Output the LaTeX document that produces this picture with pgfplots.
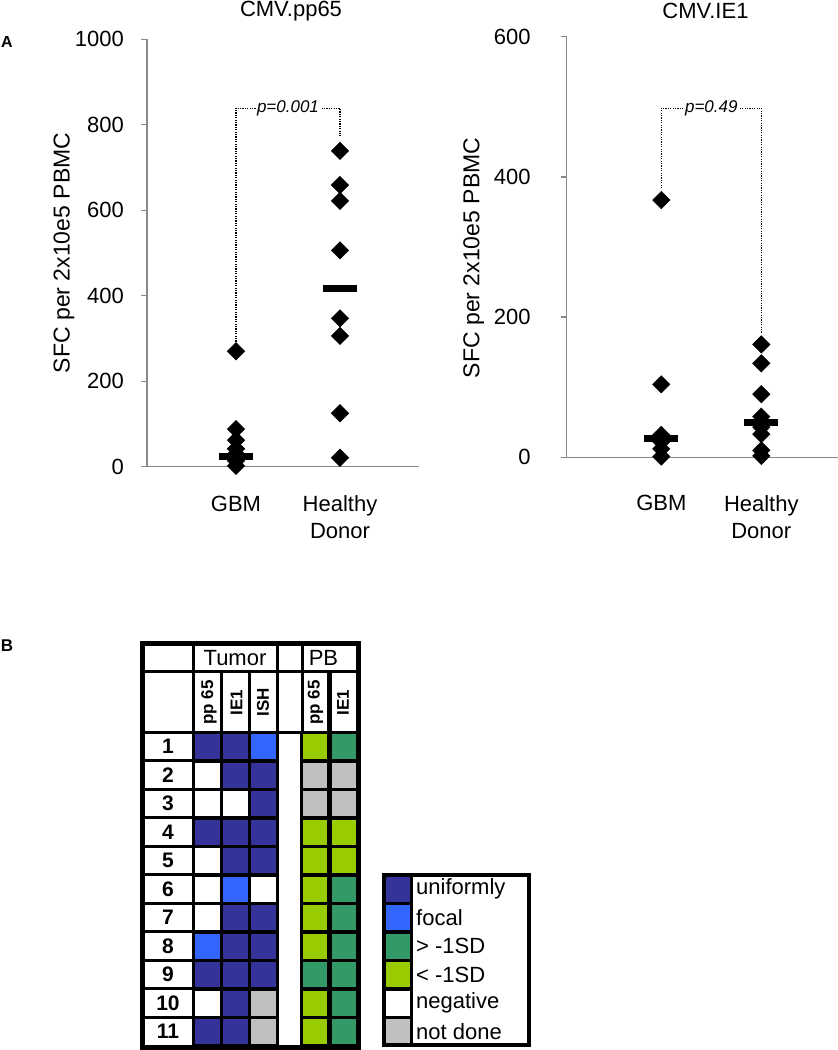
\documentclass[border=0pt]{standalone}
\usepackage{pgfplots}
\pgfplotsset{compat=1.18}
\usepackage{pgfplotstable}
\usepackage{fontspec}
\setmainfont{Liberation Sans}

\definecolor{uniform}{RGB}{51,51,153}
\definecolor{focal}{RGB}{51,102,255}
\definecolor{above}{RGB}{51,153,102}
\definecolor{below}{RGB}{153,204,0}
\definecolor{notdone}{RGB}{192,192,192}
\definecolor{axgray}{RGB}{136,136,136}

\newcommand{\fs}[1]{\fontsize{#1bp}{27bp}\selectfont}

% panel A data (group 1 = GBM, 2 = Healthy Donor)
\pgfplotstableread{
grp sfc
1 270
1 88
1 62
1 42
1 30
1 14
1 2
2 739
2 659
2 622
2 506
2 347
2 306
2 125
2 21
}\pptable
\pgfplotstableread{
grp sfc
1 24
2 418
}\ppmean
\pgfplotstableread{
grp sfc
1 367
1 104
1 32
1 22
1 12
1 1
2 161
2 134
2 90
2 58
2 43
2 33
2 10
2 2
}\ietable
\pgfplotstableread{
grp sfc
1 27
2 49
}\iemean

% panel B cells: col row (col 1-3 tumor pp65/IE1/ISH, 4.875/5.893 PB pp65/IE1, 7.82 legend)
\pgfplotstableread{
col row
1 1
2 1
2 2
3 2
3 3
1 4
2 4
3 4
2 5
3 5
2 7
3 7
2 8
3 8
1 9
2 9
3 9
2 10
1 11
2 11
7.82 6
}\cellU
\pgfplotstableread{
col row
3 1
2 6
1 8
7.82 7
}\cellF
\pgfplotstableread{
col row
5.893 1
5.893 6
5.893 7
5.893 8
4.875 9
5.893 9
5.893 10
5.893 11
7.82 8
}\cellA
\pgfplotstableread{
col row
4.875 1
4.875 4
5.893 4
4.875 5
5.893 5
4.875 6
4.875 7
4.875 8
4.875 10
4.875 11
7.82 9
}\cellB
\pgfplotstableread{
col row
1 2
1 3
2 3
1 5
1 6
3 6
1 7
1 10
7.82 10
}\cellN
\pgfplotstableread{
col row
3 10
3 11
4.875 2
5.893 2
4.875 3
5.893 3
7.82 11
}\cellND

\pgfplotsset{
  scat/.style={
    scale only axis, anchor=south west, clip=false,
    axis lines=left, axis line style={axgray, line width=1.3bp, -},
    xtick={1,2}, xticklabels={GBM,{Healthy\\Donor}},
    xtick style={draw=none},
    xticklabel style={align=center, anchor=north, inner sep=0pt, font=\fs{22}},
    ytick style={axgray, line width=1.3bp},
    tick align=outside, major tick length=6bp,
    yticklabel style={font=\fs{22}, anchor=east, inner sep=0pt},
    /pgf/number format/assume math mode=true,
    /pgf/number format/1000 sep={},
    ymin=0,
    ylabel={SFC per 2x10e5 PBMC},
    ylabel style={font=\fs{23}, anchor=center},
  },
  dia/.style={only marks, mark=square*, mark size=6.2bp,
    mark options={rotate=45, fill=black, draw=black, line width=0.4bp}},
  mbar/.style={only marks, mark=-, mark size=17bp,
    mark options={line width=7bp, draw=black}},
  brk/.style={black, line width=1.2bp, dash pattern=on 1.2bp off 1.2bp},
  cell/.style={only marks, mark=square*, mark size=14bp,
    mark options={fill=#1, draw=black, line width=3bp}},
}

\begin{document}
\begin{tikzpicture}
\useasboundingbox (0,0) rectangle (838bp,1050bp);

\begin{axis}[scat, at={(147bp,583.3bp)}, width=272bp, height=427.4bp,
  xmin=0.144, xmax=2.76, ymax=1000, ytick={0,200,...,1000},
  yticklabel style={xshift=-17bp}, xticklabel style={yshift=-23bp},
  ylabel style={at={(axis description cs:-0.305,0.5)}}]
  \addplot[brk] coordinates {(1,287) (1,839) (2,839) (2,773)};
  \node[fill=white, inner sep=1bp, font=\fs{17}\itshape] at (axis cs:1.5,839) {p=0.001};
  \addplot[dia] table[x=grp, y=sfc] {\pptable};
  \addplot[mbar] table[x=grp, y=sfc] {\ppmean};
\end{axis}

\begin{axis}[scat, at={(566.7bp,592.7bp)}, width=271.3bp, height=420.6bp,
  xmin=0.054, xmax=2.767, ymax=600, ytick={0,200,400,600},
  yticklabel style={xshift=-30bp}, xticklabel style={yshift=-32bp},
  ylabel style={at={(axis description cs:-0.343,0.474)}}]
  \addplot[brk] coordinates {(1,384) (1,498) (2,498) (2,177)};
  \node[fill=white, inner sep=1bp, font=\fs{17}\itshape] at (axis cs:1.5,498) {p=0.49};
  \addplot[dia] table[x=grp, y=sfc] {\ietable};
  \addplot[mbar] table[x=grp, y=sfc] {\iemean};
\end{axis}

\begin{axis}[at={(130bp,0bp)}, anchor=south west, scale only axis,
  width=410bp, height=415bp, xmin=-1.75, xmax=12.893, ymin=-2.921, ymax=11.64,
  y dir=reverse, axis lines=none, clip=false]
  \addplot[cell=white] table[x=col, y=row] {\cellN};
  \addplot[cell=uniform] table[x=col, y=row] {\cellU};
  \addplot[cell=focal] table[x=col, y=row] {\cellF};
  \addplot[cell=above] table[x=col, y=row] {\cellA};
  \addplot[cell=below] table[x=col, y=row] {\cellB};
  \addplot[cell=notdone] table[x=col, y=row] {\cellND};
\end{axis}

\begin{scope}[shift={(0bp,1050bp)}, x=1bp, y=-1bp]
  % titles and panel letters
  \node[font=\fs{22}] at (291,11) {CMV.pp65};
  \node[font=\fs{22}] at (705.5,11) {CMV.IE1};
  \node[font=\fs{16}\bfseries] at (7,42.5) {A};
  \node[font=\fs{17}\bfseries] at (7,646) {B};
  % table frame and rules
  \draw[line width=5bp] (142.5,644) rectangle (358,1047.5);
  \draw[line width=3bp] (142.5,672) -- (358,672);
  \draw[line width=3bp] (142.5,732.5) -- (358,732.5);
  \draw[line width=3bp] (193,644) -- (193,1047.5);
  \draw[line width=3bp] (277,644) -- (277,732.5);
  \draw[line width=3bp] (302,644) -- (302,732.5);
  \draw[line width=3bp] (221,672) -- (221,732.5);
  \draw[line width=3bp] (249,672) -- (249,732.5);
  \draw[line width=4.5bp] (329.5,672) -- (329.5,1047.5);
  \foreach \k in {1,...,10} {
    \draw[line width=3bp] (142.5,{732.5+28.5*\k}) -- (193,{732.5+28.5*\k});
  }
  \node[font=\fs{22}] at (235,658) {Tumor};
  \node[font=\fs{22}] at (323.5,658) {PB};
  \node[font=\fs{17}\bfseries, rotate=90] at (209,702.5) {pp 65};
  \node[font=\fs{17}\bfseries, rotate=90] at (236.5,702.5) {IE1};
  \node[font=\fs{17}\bfseries, rotate=90] at (263,702.5) {ISH};
  \node[font=\fs{17}\bfseries, rotate=90] at (315.5,702.5) {pp 65};
  \node[font=\fs{17}\bfseries, rotate=90] at (343,702.5) {IE1};
  \foreach \r in {1,...,11} {
    \node[font=\fs{21}\bfseries] at (168,{732.5+28.5*(\r-0.5)}) {\r};
  }
  % legend
  \draw[line width=4.5bp] (384,875) rectangle (529,1045);
  \draw[line width=3bp] (411,875) -- (411,1045);
  \foreach \t [count=\i] in {uniformly,focal,{> -1SD},{< -1SD},negative,not done} {
    \node[font=\fs{22}, anchor=west, inner sep=0pt] at (416,{732.5+28.5*(\i+4.5)}) {\t};
  }
\end{scope}
\end{tikzpicture}
\end{document}
